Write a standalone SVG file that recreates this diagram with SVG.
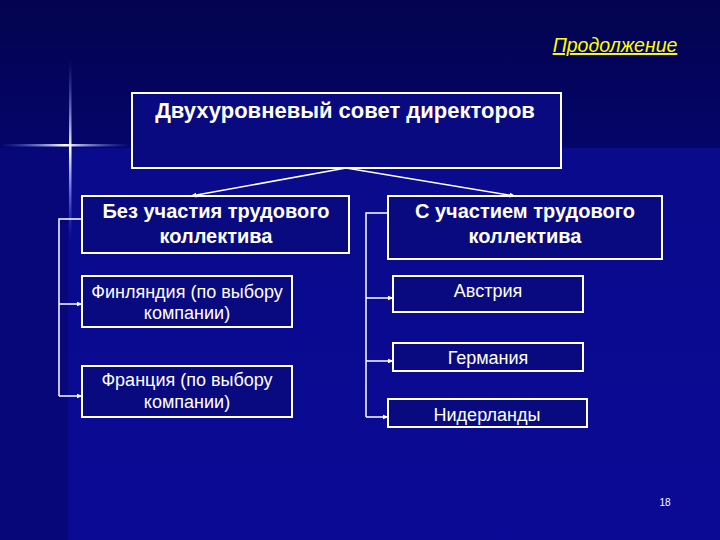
<svg xmlns="http://www.w3.org/2000/svg" width="720" height="540" viewBox="0 0 720 540">
<defs>
<linearGradient id="bgTop" x1="0" y1="0" x2="0" y2="1">
<stop offset="0" stop-color="#03034f"/>
<stop offset="1" stop-color="#05056a"/>
</linearGradient>
<linearGradient id="bgBot" x1="0" y1="0" x2="0" y2="1">
<stop offset="0" stop-color="#0a0a8c"/>
<stop offset="1" stop-color="#0a0a96"/>
</linearGradient>
<linearGradient id="hglow" x1="0" y1="0" x2="1" y2="0">
<stop offset="0" stop-color="#4a6cff" stop-opacity="0"/>
<stop offset="0.5" stop-color="#ffffff" stop-opacity="1"/>
<stop offset="1" stop-color="#4a6cff" stop-opacity="0"/>
</linearGradient>
<linearGradient id="vglow" x1="0" y1="0" x2="0" y2="1">
<stop offset="0" stop-color="#4a6cff" stop-opacity="0"/>
<stop offset="0.5" stop-color="#ffffff" stop-opacity="1"/>
<stop offset="1" stop-color="#4a6cff" stop-opacity="0"/>
</linearGradient>
<marker id="arr" viewBox="0 0 10 10" refX="9" refY="5" markerWidth="6" markerHeight="6" orient="auto" markerUnits="userSpaceOnUse">
<path d="M0,1 L10,5 L0,9 Z" fill="#ffffff"/>
</marker>
<style>
.box{fill:#0a0a80;stroke:#ffffff;stroke-width:2}
.bold{font-family:"Liberation Sans",Arial,sans-serif;font-weight:bold;fill:#ffffff;text-anchor:middle}
.norm{font-family:"Liberation Sans",Arial,sans-serif;fill:#ffffff;text-anchor:middle}
.conn{fill:none;stroke:#ffffff;stroke-width:1.5}
</style>
</defs>
<rect x="0" y="0" width="720" height="148" fill="url(#bgTop)"/>
<rect x="0" y="148" width="720" height="392" fill="url(#bgBot)"/>
<rect x="0" y="148" width="68" height="392" fill="#07077a"/>
<rect x="0" y="144" width="130" height="2.5" fill="url(#hglow)"/>
<rect x="69" y="60" width="2.5" height="180" fill="url(#vglow)"/>
<text x="615" y="52" font-family="Liberation Sans,Arial,sans-serif" font-style="italic" font-size="19.5" fill="#ffff00" text-anchor="middle" text-decoration="underline">Продолжение</text>
<g id="main">
<rect class="box" x="132" y="93" width="429" height="75"/>
<text class="bold" x="345" y="118" font-size="22">Двухуровневый совет директоров</text>
</g>
<g id="without">
<rect class="box" x="82" y="196" width="267" height="57"/>
<text class="bold" x="216" y="218" font-size="20">Без участия трудового</text>
<text class="bold" x="216" y="243" font-size="20">коллектива</text>
</g>
<g id="with">
<rect class="box" x="388" y="196" width="274" height="63"/>
<text class="bold" x="525" y="218" font-size="20">С участием трудового</text>
<text class="bold" x="525" y="243" font-size="20">коллектива</text>
</g>
<g id="finland">
<rect class="box" x="82" y="276" width="210" height="51"/>
<text class="norm" x="187" y="298" font-size="18">Финляндия (по выбору</text>
<text class="norm" x="187" y="319" font-size="18">компании)</text>
</g>
<g id="france">
<rect class="box" x="82" y="366" width="210" height="51"/>
<text class="norm" x="187" y="386" font-size="18">Франция (по выбору</text>
<text class="norm" x="187" y="408" font-size="18">компании)</text>
</g>
<g id="austria">
<rect class="box" x="393" y="276" width="190" height="36"/>
<text class="norm" x="488" y="297" font-size="18">Австрия</text>
</g>
<g id="germany">
<rect class="box" x="393" y="343" width="190" height="28"/>
<text class="norm" x="488" y="364" font-size="18">Германия</text>
</g>
<g id="netherlands">
<rect class="box" x="388" y="399" width="199" height="28"/>
<text class="norm" x="487" y="421" font-size="18">Нидерланды</text>
</g>
<g id="connectors">
<line class="conn" x1="346" y1="168" x2="191" y2="196" marker-end="url(#arr)"/>
<line class="conn" x1="346" y1="168" x2="515" y2="196" marker-end="url(#arr)"/>
<polyline class="conn" points="82,219 59,219 59,396"/>
<line class="conn" x1="59" y1="304" x2="82" y2="304" marker-end="url(#arr)"/>
<line class="conn" x1="59" y1="396" x2="82" y2="396" marker-end="url(#arr)"/>
<polyline class="conn" points="388,213 366,213 366,417"/>
<line class="conn" x1="366" y1="298" x2="393" y2="298" marker-end="url(#arr)"/>
<line class="conn" x1="366" y1="361" x2="393" y2="361" marker-end="url(#arr)"/>
<line class="conn" x1="366" y1="417" x2="388" y2="417" marker-end="url(#arr)"/>
</g>
<text x="665" y="506" font-family="Liberation Sans,Arial,sans-serif" font-size="10" fill="#ffffff" text-anchor="middle">18</text>
</svg>
